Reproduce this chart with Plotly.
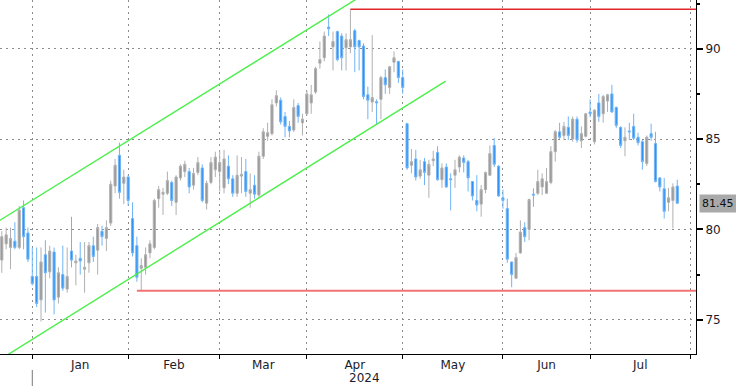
import pandas as pd
import plotly.graph_objects as go

# ---------------- data ----------------
holidays = ["2023-12-25", "2023-12-26", "2024-01-01", "2024-03-29"]
axis_days = [d for d in pd.bdate_range("2023-12-19", "2024-08-02")
             if d.strftime("%Y-%m-%d") not in holidays]
n_candles = 156
dates = axis_days[:n_candles]

opens = [78.3, 79.2, 79.0, 79.35, 79.0, 81.2, 79.8,
         77.4, 77.4, 76.1, 78.6, 77.65, 78.75, 76.25, 77.5, 76.7, 78.8, 78.15, 78.4, 77.8, 78.15, 79.1, 78.85, 79.9, 79.5, 80.35, 82.4, 84.1, 82.55,
         82.9, 80.6, 79.1, 77.85, 77.9, 78.7, 79.0, 81.7, 81.95, 82.0, 82.6, 81.5, 82.85, 83.2, 83.2, 82.45, 83.15, 83.4, 81.45, 82.6, 83.3,
         83.2, 82.3, 83.5, 82.8, 82.0, 82.95, 83.2, 82.0, 82.45, 81.9, 84.05, 85.15, 85.3, 87.0, 87.15, 86.25, 85.7, 85.5, 86.85, 85.9,
         86.4, 87.0, 87.6, 89.2, 89.5, 91.2, 90.1, 90.95, 90.7, 90.05, 90.1, 91.0, 90.45, 90.15, 87.45, 87.05, 87.07, 87.2, 88.4, 87.85, 89.25, 89.3,
         88.4, 85.85, 83.55, 83.9, 82.95, 83.75, 83.0, 83.8, 84.25, 82.75, 83.45, 82.8, 83.0, 83.45, 83.95, 83.75, 82.65, 81.6, 81.4, 82.2, 83.0, 84.65, 83.5,
         81.75, 81.15, 78.2, 77.3, 78.7, 80.1, 80.0, 81.95, 82.0, 82.35, 82.0, 82.6, 84.3, 85.4, 85.2, 85.65, 85.0, 86.1, 84.9, 85.15,
         86.5, 84.85, 87.0, 86.4, 87.1, 87.5, 86.75, 85.65, 84.9, 85.45, 85.7, 85.1, 84.85, 83.65, 85.3, 84.75, 82.85, 82.25, 81.5, 81.6, 82.4]
highs = [79.9, 80.1, 80.1, 80.4, 81.3, 81.6, 80.1,
         79.0, 79.0, 79.0, 79.4, 79.1, 79.0, 77.9, 79.1, 79.0, 80.7, 78.6, 79.3, 79.3, 79.3, 79.6, 80.3, 80.2, 80.5, 82.7, 83.9, 84.8, 83.3,
         83.0, 81.5, 79.6, 78.4, 79.0, 79.4, 81.7, 82.4, 82.3, 83.2, 82.7, 83.0, 83.6, 83.8, 83.4, 83.4, 84.0, 83.6, 82.7, 84.0, 84.3,
         84.4, 84.4, 84.1, 83.0, 84.1, 84.0, 83.9, 83.1, 83.0, 84.3, 85.6, 85.9, 87.2, 87.7, 87.3, 86.5, 86.0, 87.2, 87.0, 86.4,
         87.7, 88.0, 89.0, 90.4, 90.95, 91.9, 90.95, 91.0, 90.85, 90.85, 92.18, 91.1, 90.5, 90.3, 87.9, 90.75, 87.2, 88.5, 88.85, 89.05, 89.85, 89.3,
         88.85, 85.9, 84.45, 84.4, 83.85, 83.95, 83.85, 84.35, 84.6, 83.65, 83.65, 83.1, 83.85, 84.1, 84.1, 83.85, 82.65, 83.0, 82.45, 83.2, 84.65, 85.05, 83.55,
         82.2, 81.7, 78.2, 78.7, 80.5, 80.4, 81.7, 82.27, 83.3, 83.1, 83.4, 84.6, 85.5, 85.9, 85.95, 86.25, 86.25, 86.25, 85.7, 86.45,
         87.2, 86.65, 87.5, 87.45, 87.5, 88.0, 86.8, 85.7, 85.65, 85.9, 86.4, 85.35, 84.95, 85.2, 85.85, 85.4, 82.9, 82.85, 82.3, 82.55, 82.75]
lows = [77.6, 78.9, 77.8, 78.9, 78.9, 78.9, 78.2,
        76.9, 75.7, 74.9, 75.4, 77.3, 75.3, 75.9, 76.6, 76.5, 77.9, 76.9, 77.5, 76.5, 77.6, 78.2, 77.5, 79.1, 78.8, 80.2, 82.0, 81.7, 81.4,
        81.3, 78.5, 77.1, 76.61, 77.5, 78.4, 78.9, 81.2, 80.8, 81.9, 81.3, 80.8, 82.7, 82.9, 82.0, 82.2, 83.0, 81.5, 81.1, 82.5, 82.9,
        82.1, 82.0, 82.5, 81.8, 81.8, 82.0, 81.8, 81.2, 81.7, 81.8, 83.9, 84.9, 85.2, 86.8, 85.8, 85.1, 85.1, 85.4, 85.9, 85.2,
        86.3, 86.4, 87.5, 88.9, 89.3, 90.7, 88.8, 89.3, 88.8, 88.8, 89.75, 88.7, 88.8, 87.2, 86.1, 86.5, 85.83, 86.1, 87.5, 87.5, 88.7, 88.1,
        87.5, 83.3, 83.1, 82.7, 82.8, 82.45, 81.75, 83.5, 82.7, 82.3, 82.3, 81.05, 82.3, 83.15, 83.15, 82.1, 81.6, 81.0, 80.7, 82.0, 82.95, 83.45, 81.8,
        81.15, 78.15, 76.8, 77.25, 78.65, 79.3, 79.4, 81.25, 81.9, 81.9, 82.0, 82.5, 83.75, 85.0, 84.95, 84.95, 84.85, 84.8, 84.5, 85.1,
        86.2, 84.7, 85.95, 85.9, 86.5, 86.45, 85.6, 84.5, 84.05, 84.95, 84.95, 84.65, 83.3, 83.5, 84.9, 82.6, 82.1, 80.6, 81.0, 80.06, 81.4]
closes = [79.6, 79.7, 79.5, 79.0, 81.07, 79.6, 78.35,
          77.0, 75.9, 78.2, 77.6, 78.8, 76.1, 77.6, 76.75, 77.4, 78.3, 78.25, 78.25, 77.9, 79.1, 78.5, 80.1, 79.6, 80.1, 82.5, 83.55, 82.05, 82.9,
          81.6, 78.7, 77.35, 78.0, 78.6, 79.2, 81.6, 82.2, 82.05, 82.7, 81.6, 82.9, 83.5, 83.6, 82.35, 83.1, 83.7, 81.6, 82.55, 83.7, 84.0,
          83.7, 83.9, 82.8, 82.0, 83.0, 83.05, 82.1, 82.2, 81.95, 84.05, 85.4, 85.35, 86.9, 87.4, 85.95, 85.7, 85.45, 86.75, 86.25, 86.1,
          87.5, 87.45, 88.9, 89.4, 90.7, 91.1, 90.4, 89.4, 89.5, 90.5, 90.5, 90.1, 90.1, 87.35, 87.15, 87.3, 87.0, 88.4, 88.0, 89.0, 89.5, 88.4,
          87.85, 83.4, 83.75, 82.9, 83.3, 83.15, 83.6, 83.9, 82.75, 83.4, 82.35, 82.75, 83.3, 84.0, 83.7, 82.85, 81.85, 81.35, 82.2, 83.15, 84.2, 83.6, 81.85,
          81.6, 78.35, 77.5, 78.45, 79.85, 79.6, 81.65, 81.9, 82.65, 82.8, 82.65, 84.3, 85.4, 85.1, 85.7, 85.2, 86.1, 84.95, 85.3, 86.4,
          86.4, 86.6, 86.25, 87.35, 87.45, 86.5, 85.75, 84.65, 85.1, 85.4, 85.05, 84.8, 83.75, 85.1, 85.1, 82.65, 82.35, 81.0, 81.75, 82.35, 81.45]

month_names = ["Jan", "Feb", "Mar", "Apr", "May", "Jun", "Jul"]
year_label = "2024"
last_price_label = "81.45"
last_price = 81.45

# channel / level lines (trading-day index, price)
upper_channel_x = [-1.0, 82.0]
upper_channel_y = [80.42, 92.84]
lower_channel_x = [1.0, 101.86]
lower_channel_y = [73.01, 88.21]
high_level_x = [80, 162]
high_level_y = [92.18, 92.18]
low_level_x = [31, 162]
low_level_y = [76.61, 76.61]

y_major = [75, 80, 85, 90]
y_minor = [77.5, 82.5, 87.5, 92.5]
y_range = [73.105, 92.695]
x_range = [-0.41, 159.3]

# ---------------- derived axis positions ----------------
x_idx = list(range(len(dates)))
month_starts = []
for i, d in enumerate(axis_days):
    if i > 0 and d.month != axis_days[i - 1].month:
        month_starts.append(i)
month_mid = [(month_starts[k] + month_starts[k + 1]) / 2 for k in range(len(month_names))]

GRID = "#8c8c8c"
FONT = dict(family="DejaVu Sans", size=12, color="#1c1c2c")

fig = go.Figure()
fig.add_trace(go.Candlestick(
    x=x_idx, open=opens, high=highs, low=lows, close=closes,
    increasing=dict(line=dict(color="#b0b0b0", width=1), fillcolor="#979797"),
    decreasing=dict(line=dict(color="#70b4f6", width=1), fillcolor="#2f93f4"),
    whiskerwidth=0, showlegend=False, hoverinfo="skip",
))
for xs, ys, col, w in [
    (upper_channel_x, upper_channel_y, "#4cf04c", 1.4),
    (lower_channel_x, lower_channel_y, "#4cf04c", 1.4),
    (high_level_x, high_level_y, "#e3262b", 1.5),
    (low_level_x, low_level_y, "#f07474", 2),
]:
    fig.add_trace(go.Scatter(x=xs, y=ys, mode="lines", line=dict(color=col, width=w),
                             showlegend=False, hoverinfo="skip"))

fig.add_annotation(x=(month_starts[0] + x_range[1]) / 2, xref="x", y=-0.068, yref="paper",
                   text=year_label, showarrow=False, font=FONT, yanchor="middle")
fig.add_annotation(x=1, xref="paper", xanchor="left", xshift=3, y=last_price, yref="y",
                   text=last_price_label, showarrow=False, bgcolor="#a9a9a9",
                   font=dict(family="DejaVu Sans", size=11, color="#111"), borderpad=2)
fig.add_shape(type="line", xref="x", yref="paper", x0=month_starts[0], x1=month_starts[0],
              y0=-0.045, y1=-0.095, line=dict(color="#777", width=1))

fig.update_layout(
    width=736, height=386, margin=dict(l=0, r=40, t=0, b=32),
    paper_bgcolor="white", plot_bgcolor="white", showlegend=False,
    xaxis=dict(range=x_range, rangeslider=dict(visible=False), tickmode="array",
               tickvals=month_mid, ticktext=month_names, ticks="", showgrid=False,
               showline=True, linecolor="black", linewidth=1, zeroline=False,
               tickfont=FONT, automargin=False,
               minor=dict(tickmode="array", tickvals=month_starts, ticks="outside", ticklen=4,
                          tickcolor="black", showgrid=True, gridcolor=GRID,
                          griddash="2px,4px", gridwidth=1)),
    yaxis=dict(side="right", range=y_range, tickmode="array", tickvals=y_major,
               ticks="outside", ticklen=6, tickwidth=2, tickcolor="black", showgrid=True,
               gridcolor=GRID, griddash="2px,4px", gridwidth=1, showline=True,
               linecolor="black", linewidth=1, zeroline=False, tickfont=FONT, automargin=False,
               minor=dict(tickmode="array", tickvals=y_minor, ticks="outside", ticklen=3,
                          tickcolor="black", showgrid=False)),
)

fig.write_html("out.html", config={"displayModeBar": False, "staticPlot": True},
               post_script="document.body.style.margin='0';document.body.style.overflow='hidden';")
